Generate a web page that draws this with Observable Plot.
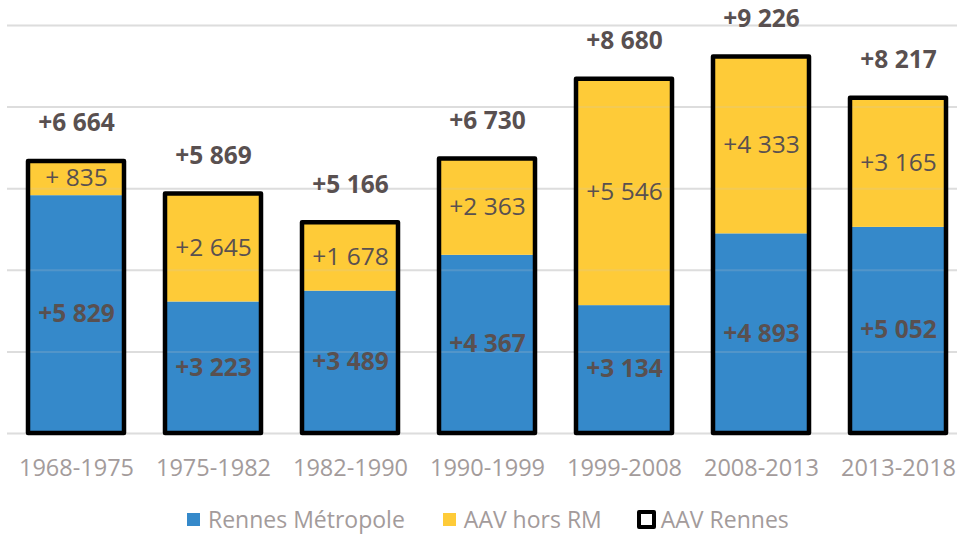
<!DOCTYPE html>
<html><head><meta charset="utf-8">
<script src="https://cdn.jsdelivr.net/npm/d3@7"></script>
<script src="https://cdn.jsdelivr.net/npm/@observablehq/plot@0.6"></script>
<style>
body{margin:0;background:#fff;overflow:hidden;font-family:"Open Sans",sans-serif;}
#legend{height:58px;display:flex;align-items:center;padding-left:187px;font-size:23px;color:#a39b9b;white-space:nowrap;}
.item{display:flex;align-items:center;}
.sw{width:13px;height:13px;margin-right:8px;}
</style></head><body><div id="chart"></div><div id="legend"></div>
<script>
const periods = ["1968-1975","1975-1982","1982-1990","1990-1999","1999-2008","2008-2013","2013-2018"];
const rennesMetropole = [5829,3223,3489,4367,3134,4893,5052];
const aavHorsRM = [835,2645,1678,2363,5546,4333,3165];
const aavRennes = [6664,5869,5166,6730,8680,9226,8217];
const gridTicks = [0,2000,4000,6000,8000,10000];
const seriesNames = ["Rennes Métropole","AAV hors RM","AAV Rennes"];
const seriesColors = ["#3589ca","#fecb38","#000000"];

const fmt = v => v < 1000 ? "+ " + v : "+" + d3.format(",")(v).replace(/,/g, " ");

const stackRows = [
  ...periods.map((p,i)=>({period:p, series:seriesNames[0], value:rennesMetropole[i]})),
  ...periods.map((p,i)=>({period:p, series:seriesNames[1], value:aavHorsRM[i]}))
];
const blueLabels = periods.map((p,i)=>({period:p, mid:rennesMetropole[i]/2, text:fmt(rennesMetropole[i])}));
const yellowLabels = periods.map((p,i)=>({period:p, mid:rennesMetropole[i]+aavHorsRM[i]/2, text:fmt(aavHorsRM[i])}));
const totals = periods.map((p,i)=>({period:p, total:aavRennes[i], text:fmt(aavRennes[i])}));

const labelColor = "#595050";
const chart = Plot.plot({
  width: 957, height: 490,
  marginTop: 25, marginBottom: 57, marginLeft: 7, marginRight: 0,
  style: {fontFamily: "Open Sans, sans-serif", background: "#fff"},
  x: {type: "band", domain: periods, range: [7, 966], paddingInner: 0.3, paddingOuter: 0.15, align: 0.5, label: null},
  y: {domain: [0, 10000], axis: null},
  color: {domain: seriesNames.slice(0,2), range: seriesColors.slice(0,2)},
  marks: [
    Plot.ruleY(gridTicks, {stroke: "#e3e3e3", strokeWidth: 2}),
    Plot.barY(stackRows, Plot.stackY({x: "period", y: "value", z: "series", fill: "series"})),
    Plot.ruleY(gridTicks, {stroke: "#c8c8c8", strokeOpacity: 0.2, strokeWidth: 2}),
    Plot.barY(totals, {x: "period", y: "total", fill: "none", stroke: "#000", strokeWidth: 4.5, strokeLinejoin: "round"}),
    Plot.text(blueLabels, {x: "period", y: "mid", text: "text", fontSize: 24.5, fontWeight: "bold", fill: labelColor}),
    Plot.text(yellowLabels, {x: "period", y: "mid", text: "text", fontSize: 24.5, fill: labelColor}),
    Plot.text(totals, {x: "period", y: "total", text: "text", dy: -38, fontSize: 24.5, fontWeight: "bold", fill: labelColor}),
    Plot.axisX({tickSize: 0, tickPadding: 26, fontSize: 23.5, color: "#a39b9b", label: null})
  ]
});
document.getElementById("chart").appendChild(chart);

const legend = document.getElementById("legend");
const gaps = [0, 38, 35];
seriesNames.forEach((name, i) => {
  const item = document.createElement("div");
  item.className = "item";
  item.style.marginLeft = gaps[i] + "px";
  const sw = document.createElement("div");
  sw.className = "sw";
  if (i === 2) {
    sw.style.width = "11px"; sw.style.height = "11px";
    sw.style.border = "4px solid #000"; sw.style.borderRadius = "2px";
    sw.style.background = "#fff"; sw.style.marginRight = "5px";
  } else {
    sw.style.background = seriesColors[i];
  }
  const t = document.createElement("span");
  t.textContent = name;
  item.appendChild(sw); item.appendChild(t);
  legend.appendChild(item);
});
</script></body></html>
